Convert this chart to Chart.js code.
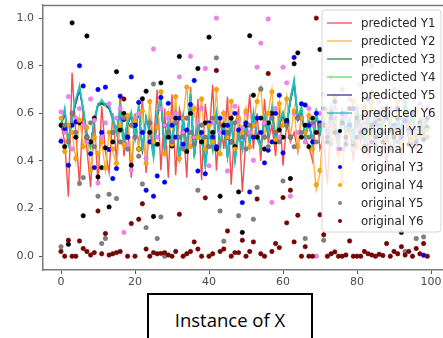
<!DOCTYPE html>
<html><head><meta charset="utf-8">
<script src="https://cdn.jsdelivr.net/npm/chart.js@4"></script>
<style>
html,body{margin:0;padding:0;background:#fff;width:443px;height:338px;overflow:hidden;position:relative;}
#c{position:absolute;left:0;top:0;}
#xlabel{position:absolute;left:147px;top:293px;width:162px;height:60px;border:2px solid #000;font-family:"Open Sans",sans-serif;font-size:18.5px;text-align:center;line-height:24px;padding-top:13px;color:#000;}
</style></head>
<body>
<canvas id="c" width="443" height="290"></canvas>
<div id="xlabel">Instance of X</div>
<script>
const instances = Array.from({length:100},(_,i)=>i);
const xTicks = [0,20,40,60,80,100];
const yTicks = [0,0.2,0.4,0.6,0.8,1.0];
const yTickLabels = ['0.0','0.2','0.4','0.6','0.8','1.0'];

const predictedY1 = [0.55,0.48,0.25,0.77,0.52,0.30,0.62,0.45,0.29,0.58,
0.30,0.63,0.44,0.35,0.60,0.40,0.68,0.42,0.55,0.33,
0.60,0.46,0.66,0.35,0.58,0.47,0.70,0.36,0.62,0.33,
0.68,0.34,0.62,0.55,0.33,0.71,0.42,0.66,0.32,0.64,
0.50,0.72,0.36,0.58,0.45,0.67,0.30,0.55,0.62,0.27,
0.50,0.68,0.45,0.60,0.40,0.66,0.48,0.55,0.42,0.63,
0.38,0.56,0.48,0.52,0.44,0.60,0.50,0.46,0.40,0.62,
0.45,0.50,0.30,0.58,0.52,0.44,0.61,0.47,0.55,0.40,
0.57,0.48,0.62,0.43,0.56,0.45,0.60,0.50,0.38,0.58,
0.47,0.55,0.42,0.60,0.48,0.53,0.44,0.58,0.50,0.55];
const predictedY2 = [0.50,0.44,0.56,0.52,0.40,0.58,0.46,0.55,0.35,0.50,
0.42,0.48,0.36,0.52,0.44,0.38,0.55,0.46,0.60,0.40,
0.57,0.45,0.62,0.38,0.66,0.48,0.54,0.70,0.42,0.60,
0.47,0.68,0.40,0.58,0.72,0.45,0.62,0.50,0.67,0.44,
0.55,0.48,0.71,0.42,0.60,0.50,0.66,0.44,0.58,0.52,
0.62,0.45,0.55,0.66,0.71,0.50,0.60,0.70,0.48,0.65,
0.55,0.67,0.50,0.62,0.45,0.58,0.52,0.60,0.44,0.28,
0.35,0.58,0.62,0.48,0.68,0.42,0.30,0.60,0.52,0.66,
0.45,0.58,0.64,0.50,0.70,0.44,0.56,0.62,0.48,0.58,
0.52,0.66,0.45,0.60,0.55,0.48,0.62,0.50,0.57,0.53];
const predictedY3 = [0.54,0.61,0.49,0.57,0.65,0.70,0.61,0.51,0.47,0.56,
0.63,0.64,0.63,0.62,0.57,0.53,0.61,0.49,0.55,0.59,
0.51,0.62,0.45,0.57,0.53,0.43,0.59,0.65,0.46,0.54,
0.49,0.59,0.41,0.57,0.46,0.67,0.43,0.54,0.51,0.39,
0.51,0.46,0.59,0.48,0.54,0.43,0.57,0.41,0.51,0.46,
0.54,0.49,0.59,0.51,0.47,0.57,0.51,0.61,0.49,0.55,
0.59,0.54,0.65,0.72,0.57,0.61,0.51,0.55,0.49,0.59,
0.51,0.57,0.51,0.61,0.54,0.49,0.59,0.52,0.56,0.51,
0.61,0.54,0.49,0.57,0.51,0.59,0.51,0.55,0.61,0.53,
0.49,0.57,0.51,0.65,0.54,0.59,0.51,0.56,0.52,0.57];
const predictedY4 = [0.56,0.61,0.47,0.59,0.65,0.72,0.61,0.49,0.45,0.58,
0.63,0.66,0.63,0.64,0.57,0.51,0.63,0.47,0.57,0.61,
0.49,0.64,0.43,0.59,0.51,0.41,0.61,0.67,0.44,0.56,
0.47,0.61,0.39,0.59,0.44,0.69,0.41,0.56,0.49,0.37,
0.53,0.44,0.61,0.46,0.56,0.41,0.59,0.39,0.53,0.44,
0.56,0.47,0.61,0.49,0.45,0.59,0.53,0.63,0.47,0.57,
0.61,0.56,0.67,0.73,0.59,0.63,0.49,0.57,0.47,0.61,
0.53,0.59,0.49,0.63,0.56,0.47,0.61,0.54,0.58,0.49,
0.63,0.56,0.47,0.59,0.53,0.61,0.49,0.57,0.63,0.55,
0.47,0.59,0.53,0.67,0.56,0.61,0.49,0.58,0.54,0.59];
const predictedY5 = [0.55,0.60,0.48,0.58,0.64,0.70,0.62,0.50,0.47,0.57,
0.64,0.64,0.64,0.62,0.58,0.52,0.61,0.48,0.56,0.59,
0.50,0.62,0.45,0.58,0.52,0.43,0.59,0.65,0.45,0.55,
0.48,0.59,0.41,0.58,0.45,0.67,0.42,0.55,0.50,0.39,
0.52,0.45,0.59,0.47,0.55,0.42,0.58,0.41,0.52,0.45,
0.55,0.48,0.59,0.50,0.46,0.58,0.52,0.61,0.48,0.56,
0.59,0.55,0.65,0.73,0.58,0.61,0.50,0.56,0.48,0.59,
0.52,0.58,0.50,0.61,0.55,0.48,0.59,0.53,0.57,0.50,
0.61,0.55,0.48,0.58,0.52,0.59,0.50,0.56,0.61,0.54,
0.48,0.58,0.52,0.65,0.55,0.59,0.50,0.57,0.53,0.58];
const predictedY6 = [0.55,0.62,0.48,0.58,0.66,0.71,0.62,0.50,0.46,0.57,
0.64,0.65,0.64,0.63,0.58,0.52,0.62,0.48,0.56,0.60,
0.50,0.63,0.44,0.58,0.52,0.42,0.60,0.66,0.45,0.55,
0.48,0.60,0.40,0.58,0.45,0.68,0.42,0.55,0.50,0.38,
0.52,0.45,0.60,0.47,0.55,0.42,0.58,0.40,0.52,0.45,
0.55,0.48,0.60,0.50,0.46,0.58,0.52,0.62,0.48,0.56,
0.60,0.55,0.66,0.74,0.58,0.62,0.50,0.56,0.48,0.60,
0.52,0.58,0.50,0.62,0.55,0.48,0.60,0.53,0.57,0.50,
0.62,0.55,0.48,0.58,0.52,0.60,0.50,0.56,0.62,0.54,
0.48,0.58,0.52,0.66,0.55,0.60,0.50,0.57,0.53,0.58];

const originalY1 = [0.55,0.46,0.05,0.98,0.50,0.56,0.17,0.925,0.48,0.58,
0.333,0.372,0.455,0.207,0.48,0.775,0.53,0.60,0.50,0.382,
0.55,0.45,0.661,0.693,0.52,0.167,0.47,0.728,0.55,0.50,
0.463,0.58,0.839,0.52,0.44,0.60,0.50,0.788,0.48,0.56,
0.92,0.52,0.45,0.252,0.55,0.50,0.58,0.46,0.27,0.10,
0.55,0.926,0.676,0.50,0.58,0.45,0.56,0.60,0.48,0.53,
0.50,0.57,0.326,0.808,0.854,0.50,0.55,0.46,0.58,0.52,
0.868,0.55,0.48,0.60,0.52,0.45,0.56,0.50,0.62,0.47,
0.58,0.52,0.46,0.60,0.55,0.50,0.57,0.48,0.62,0.53,
0.50,0.58,0.10,0.55,0.47,0.60,0.52,0.56,0.49,0.54];
const originalY2 = [0.606,0.52,0.67,0.45,0.58,0.62,0.55,0.48,0.66,0.571,
0.307,0.499,0.56,0.64,0.52,0.58,0.62,0.10,0.47,0.361,
0.58,0.60,0.52,0.41,0.56,0.87,0.50,0.62,0.55,0.58,
0.48,0.60,0.753,0.52,0.58,0.84,0.50,0.56,0.62,0.788,
0.38,0.56,1.00,0.52,0.60,0.358,0.48,0.63,0.57,0.54,
0.60,0.52,0.403,0.794,0.895,0.56,0.996,0.226,0.62,0.50,
0.794,0.728,0.252,0.60,0.52,0.58,0.48,0.62,0.55,0.00,
0.60,0.68,0.55,0.75,0.62,0.50,0.70,0.58,0.66,0.45,
0.62,0.72,0.55,0.60,0.80,0.52,0.65,0.62,0.58,0.62,
0.70,0.48,0.66,0.55,0.60,0.75,0.52,0.64,0.58,0.62];
const originalY3 = [0.483,0.536,0.382,0.55,0.564,0.80,0.715,0.50,0.43,0.372,
0.70,0.52,0.71,0.448,0.326,0.368,0.672,0.574,0.50,0.753,
0.55,0.646,0.52,0.277,0.48,0.252,0.337,0.667,0.311,0.642,
0.55,0.50,0.58,0.47,0.53,0.637,0.738,0.358,0.52,0.346,
0.56,0.50,0.46,0.58,0.52,0.55,0.48,0.60,0.53,0.225,
0.56,0.27,0.50,0.58,0.52,0.392,0.445,0.48,0.60,0.676,
0.434,0.56,0.50,0.835,0.58,0.64,0.635,0.55,0.48,0.60,
0.56,0.62,0.50,0.58,0.65,0.52,0.60,0.47,0.55,0.62,
0.50,0.58,0.53,0.66,0.48,0.56,0.60,0.52,0.58,0.45,
0.55,0.62,0.50,0.57,0.53,0.60,0.48,0.55,0.004,0.58];
const originalY4 = [0.58,0.44,0.55,0.52,0.41,0.57,0.46,0.54,0.36,0.50,
0.43,0.48,0.37,0.52,0.45,0.39,0.55,0.47,0.59,0.41,
0.57,0.45,0.61,0.39,0.65,0.48,0.54,0.69,0.43,0.60,
0.47,0.67,0.41,0.58,0.71,0.46,0.62,0.50,0.66,0.45,
0.55,0.48,0.70,0.43,0.60,0.50,0.65,0.45,0.58,0.52,
0.61,0.46,0.55,0.65,0.70,0.50,0.60,0.69,0.49,0.64,
0.55,0.66,0.50,0.61,0.46,0.58,0.52,0.59,0.45,0.30,
0.36,0.58,0.61,0.49,0.67,0.43,0.31,0.60,0.52,0.65,
0.46,0.58,0.63,0.50,0.69,0.45,0.56,0.61,0.49,0.58,
0.52,0.65,0.46,0.60,0.55,0.49,0.61,0.50,0.57,0.53];
const originalY5 = [0.04,0.55,0.48,0.60,0.52,0.305,0.33,0.50,0.56,0.46,
0.252,0.053,0.074,0.26,0.52,0.242,0.48,0.58,0.45,0.55,
0.50,0.42,0.303,0.12,0.56,0.723,0.074,0.165,0.00,0.52,
0.48,0.56,0.50,0.45,0.58,0.52,0.47,0.277,0.55,0.50,
0.46,0.58,0.833,0.19,0.063,0.52,0.48,0.56,0.17,0.50,
0.45,0.55,0.155,0.289,0.703,0.50,0.46,0.58,0.52,0.48,
0.316,0.55,0.50,0.46,0.58,0.52,0.074,0.50,0.56,0.48,
0.55,0.067,0.52,0.47,0.58,0.50,0.45,0.60,0.53,0.48,
0.56,0.50,0.44,0.58,0.52,0.47,0.55,0.60,0.50,0.46,
0.54,0.48,0.58,0.02,0.52,0.47,0.074,0.55,0.081,0.50];
const originalY6 = [0.02,0.00,0.067,0.00,0.00,0.064,0.032,0.02,0.005,0.015,
0.19,0.01,0.095,0.005,0.01,0.015,0.02,0.66,0.00,0.137,
0.00,0.155,0.22,0.03,0.00,0.015,0.01,0.012,0.015,0.005,
0.00,0.02,0.176,0.00,0.01,0.02,0.06,0.03,0.00,0.245,
0.00,0.01,0.78,0.02,0.03,0.106,0.00,0.015,0.015,0.067,
0.00,0.02,0.06,0.24,0.01,0.00,0.767,0.02,0.053,0.036,
0.246,0.14,0.277,0.06,0.172,0.00,0.04,0.00,0.00,1.00,
0.174,0.09,0.00,0.01,0.018,0.00,0.00,0.005,0.064,0.00,
0.00,0.00,0.02,0.01,0.005,0.00,0.008,0.003,0.053,0.00,
0.02,0.01,0.04,0.005,0.02,0.00,0.032,0.01,0.053,0.00];

const predictedNames = ['predicted Y1','predicted Y2','predicted Y3','predicted Y4','predicted Y5','predicted Y6'];
const originalNames = ['original Y1','original Y2','original Y3','original Y4','original Y5','original Y6'];
const predicted = [predictedY1,predictedY2,predictedY3,predictedY4,predictedY5,predictedY6];
const original = [originalY1,originalY2,originalY3,originalY4,originalY5,originalY6];

const lineColors = ['#f24f4f','#f5b544','#2f8a3a','#5be35b','#34349c','#1fbfc2'];
const lineWidths = [1.4,1.4,1.4,1.4,1.4,1.8];
const dotColors = ['#000000','#ee82ee','#0000ff','#ffa500','#808080','#800000'];
const dotEdges = ['#000000','#e070e0','#0000dd','#e09000','#6a6a6a','#5a0000'];

const pts = arr => arr.map((v,i)=>({x:instances[i], y:v}));
const datasets = [];
predicted.forEach((arr,k)=>datasets.push({
  label: predictedNames[k], data: pts(arr), showLine: true,
  borderColor: lineColors[k], backgroundColor: lineColors[k],
  borderWidth: lineWidths[k], pointRadius: 0, tension: 0, fill: false, order: 12-k
}));
original.forEach((arr,k)=>datasets.push({
  label: originalNames[k], data: pts(arr), showLine: false,
  backgroundColor: dotColors[k], borderColor: dotEdges[k],
  borderWidth: 0.6, pointRadius: 2.2, order: 6-k
}));

const frameColor = '#7a7a7a';
const mplLegend = {
  id: 'mplLegend',
  afterDraw(chart){
    const ctx = chart.ctx, a = chart.chartArea;
    ctx.save();
    ctx.strokeStyle = frameColor; ctx.lineWidth = 1.5;
    ctx.beginPath(); ctx.moveTo(a.left, a.top+0.5); ctx.lineTo(a.right, a.top+0.5); ctx.stroke();
    const L = a.right - 121, T = a.top + 5, W = 119, H = 222, r = 3;
    ctx.beginPath();
    ctx.moveTo(L+r, T); ctx.lineTo(L+W-r, T); ctx.quadraticCurveTo(L+W, T, L+W, T+r);
    ctx.lineTo(L+W, T+H-r); ctx.quadraticCurveTo(L+W, T+H, L+W-r, T+H);
    ctx.lineTo(L+r, T+H); ctx.quadraticCurveTo(L, T+H, L, T+H-r);
    ctx.lineTo(L, T+r); ctx.quadraticCurveTo(L, T, L+r, T); ctx.closePath();
    ctx.fillStyle = 'rgba(255,255,255,0.8)'; ctx.fill();
    ctx.strokeStyle = '#d4d4d4'; ctx.lineWidth = 1; ctx.stroke();
    ctx.font = '11.8px "DejaVu Sans"';
    ctx.textBaseline = 'middle'; ctx.textAlign = 'left';
    chart.data.datasets.forEach((ds,i)=>{
      const y = T + 13 + i*18;
      if (ds.showLine) {
        ctx.strokeStyle = ds.borderColor; ctx.lineWidth = 1.3;
        ctx.beginPath(); ctx.moveTo(L+5, y); ctx.lineTo(L+30, y); ctx.stroke();
      } else {
        ctx.fillStyle = ds.backgroundColor;
        ctx.beginPath(); ctx.arc(L+18, y, 2, 0, Math.PI*2); ctx.fill();
      }
      ctx.fillStyle = '#262626';
      ctx.fillText(ds.label, L+39, y+0.5);
    });
    ctx.restore();
  }
};

new Chart(document.getElementById('c'), {
  type: 'scatter',
  data: { datasets },
  options: {
    responsive: false, animation: false,
    layout: { autoPadding: false, padding: { top: 5, left: 0, right: 0, bottom: 0 } },
    plugins: { legend: { display: false }, tooltip: { enabled: false } },
    scales: {
      x: {
        type: 'linear', min: -4.865, max: 103.24,
        afterBuildTicks: s => { s.ticks = xTicks.map(v=>({value:v})); },
        afterFit: s => { s.height = 20; s.paddingLeft = 0; s.paddingRight = 0; },
        ticks: { autoSkip: false, maxRotation: 0, color: '#4a4a4a', font: { family: 'DejaVu Sans', size: 11 }, padding: 2 },
        grid: { drawOnChartArea: false, tickLength: 4, color: '#555' },
        border: { color: frameColor, width: 1.5 }
      },
      y: {
        type: 'linear', min: -0.058, max: 1.055,
        afterBuildTicks: s => { s.ticks = yTicks.map(v=>({value:v})); },
        afterFit: s => { s.width = 43; s.paddingTop = 0; s.paddingBottom = 0; },
        ticks: { callback: (v,i) => yTickLabels[i], color: '#4a4a4a', font: { family: 'DejaVu Sans', size: 11 }, padding: 5 },
        grid: { drawOnChartArea: false, tickLength: 4, color: '#555' },
        border: { color: frameColor, width: 1.5 }
      }
    }
  },
  plugins: [mplLegend]
});
</script>
</body></html>
